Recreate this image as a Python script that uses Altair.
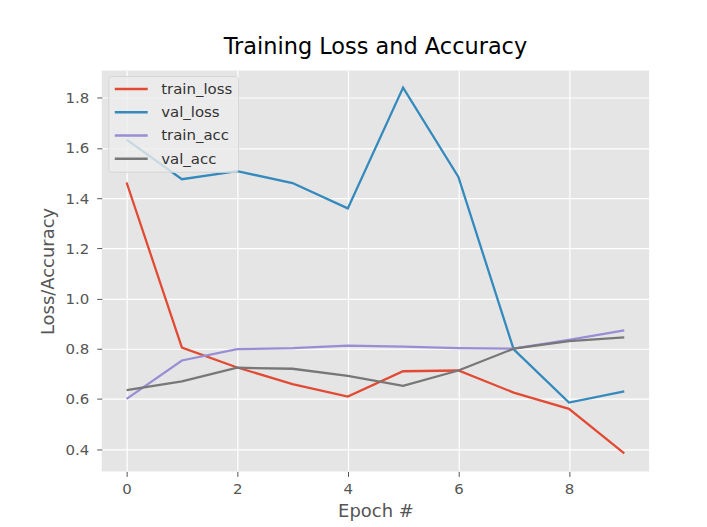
import altair as alt
import pandas as pd

epochs = [0, 1, 2, 3, 4, 5, 6, 7, 8, 9]
train_loss = [1.462, 0.804, 0.725, 0.659, 0.609, 0.710, 0.713, 0.625, 0.560, 0.383]
val_loss = [1.633, 1.475, 1.507, 1.460, 1.359, 1.840, 1.484, 0.797, 0.585, 0.630]
train_acc = [0.600, 0.753, 0.798, 0.802, 0.812, 0.808, 0.802, 0.800, 0.835, 0.873]
val_acc = [0.635, 0.670, 0.724, 0.720, 0.692, 0.652, 0.713, 0.800, 0.830, 0.845]

series_names = ["train_loss", "val_loss", "train_acc", "val_acc"]
series_colors = ["#E24A33", "#348ABD", "#988ED5", "#777777"]

rows = []
for name, vals in zip(series_names, [train_loss, val_loss, train_acc, val_acc]):
    for e, v in zip(epochs, vals):
        rows.append({"epoch": e, "value": v, "series": name})
df = pd.DataFrame(rows)

FONT = "DejaVu Sans"

chart = alt.Chart(df).mark_line(strokeWidth=2.3, clip=True).encode(
    x=alt.X("epoch:Q",
            scale=alt.Scale(domain=[-0.45, 9.45], nice=False, zero=False),
            axis=alt.Axis(values=[0, 2, 4, 6, 8], title="Epoch #", format="d")),
    y=alt.Y("value:Q",
            scale=alt.Scale(domain=[0.311, 1.908], nice=False, zero=False),
            axis=alt.Axis(values=[0.4, 0.6, 0.8, 1.0, 1.2, 1.4, 1.6, 1.8],
                          format=".1f", title="Loss/Accuracy")),
    color=alt.Color("series:N",
                    scale=alt.Scale(domain=series_names, range=series_colors),
                    sort=series_names,
                    legend=alt.Legend(title=None, orient="none",
                                      legendX=6.6, legendY=5.5,
                                      symbolType="stroke", symbolSize=1089,
                                      symbolStrokeWidth=2.5,
                                      labelFontSize=15, labelFont=FONT,
                                      labelColor="#333333",
                                      fillColor="rgba(236,236,236,0.8)",
                                      strokeColor="#D4D4D4",
                                      cornerRadius=3, padding=5,
                                      clipHeight=16, rowPadding=7.3,
                                      labelOffset=12)),
    detail="series:N",
).properties(
    width=549,
    height=402,
    title=alt.TitleParams("Training Loss and Accuracy", fontSize=22.5,
                          font=FONT, fontWeight="normal", color="#000000",
                          offset=12, anchor="middle"),
    autosize=alt.AutoSizeParams(type="none"),
    padding={"left": 94, "top": 62, "right": 50, "bottom": 50},
).configure(
    background="white",
).configure_view(
    fill="#E5E5E5", stroke=None,
).configure_axis(
    domain=False,
    grid=True, gridColor="white", gridWidth=1.2,
    tickColor="#555555", tickSize=5, tickWidth=1,
    labelColor="#555555", labelFontSize=15, labelFont=FONT,
    titleColor="#555555", titleFontSize=18, titleFont=FONT,
    titleFontWeight="normal",
).configure_axisX(
    labelPadding=5, titlePadding=6,
).configure_axisY(
    labelPadding=8, titlePadding=8,
)

chart.save("out.html", embed_options={"renderer": "svg", "actions": False})
